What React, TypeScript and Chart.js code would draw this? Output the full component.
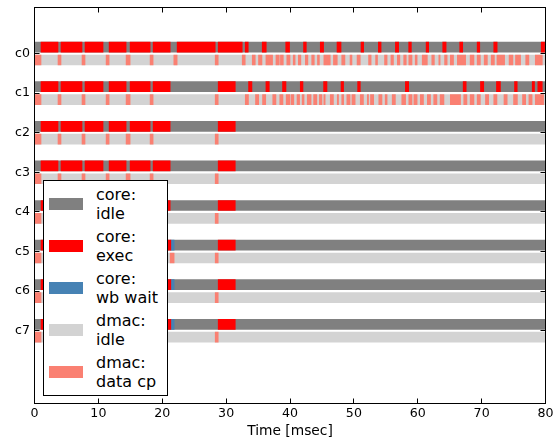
import React, { useEffect, useRef } from 'react';
import { Chart, registerables } from 'chart.js';

Chart.register(...registerables);

type Seg = [number, number];

const ROWS = ['c0', 'c1', 'c2', 'c3', 'c4', 'c5', 'c6', 'c7'];
const X_TICKS = [0, 10, 20, 30, 40, 50, 60, 70, 80];
const X_LABEL = 'Time [msec]';

const CORE_IDLE: Seg[][] = ROWS.map(() => [[0, 80]]);
const DMAC_IDLE: Seg[][] = ROWS.map(() => [[0, 80]]);

const CORE_EXEC: Seg[][] = [
  [[1.02, 3.68], [4.15, 7.44], [7.91, 10.73], [11.68, 14.34], [14.97, 18.1], [18.57, 21.24], [22.33, 28.29], [28.76, 32.52], [32.99, 33.46], [35.65, 36.28], [39.33, 39.93], [42.12, 42.55], [44.74, 45.26], [47.36, 47.99], [51.12, 51.53], [53.83, 54.26], [56.5, 57.01], [58.58, 59.0], [61.31, 61.71], [63.91, 64.44], [66.57, 67.04], [69.3, 69.71], [71.9, 72.43], [79.33, 79.85]],
  [[1.02, 3.68], [4.15, 7.44], [7.91, 10.73], [11.68, 14.34], [14.97, 18.1], [18.57, 21.24], [28.76, 31.43], [33.51, 34.04], [36.23, 36.75], [38.83, 39.37], [41.61, 42.03], [45.26, 45.79], [47.99, 48.39], [50.59, 51.01], [58.06, 58.58], [67.11, 67.58], [69.82, 70.33], [72.32, 72.95], [75.15, 75.57], [77.92, 78.28], [78.8, 79.49]],
  [[1.02, 3.68], [4.15, 7.44], [7.91, 10.73], [11.68, 14.34], [14.97, 18.1], [18.57, 21.24], [28.76, 31.43]],
  [[1.02, 3.68], [4.15, 7.44], [7.91, 10.73], [11.68, 14.34], [14.97, 18.1], [18.57, 21.24], [28.76, 31.43]],
  [[1.02, 3.68], [4.15, 7.44], [7.91, 10.73], [11.68, 14.34], [14.97, 18.1], [18.57, 21.24], [28.76, 31.43]],
  [[1.02, 3.68], [4.15, 7.44], [7.91, 10.73], [11.68, 14.34], [14.97, 18.1], [18.57, 21.34], [28.76, 31.43]],
  [[1.02, 3.68], [4.15, 7.44], [7.91, 10.73], [11.68, 14.34], [14.97, 18.1], [18.57, 21.34], [28.76, 31.43]],
  [[1.02, 3.68], [4.15, 7.44], [7.91, 10.73], [11.68, 14.34], [14.97, 18.1], [18.57, 21.34], [28.76, 31.43]],
];

const CORE_WB_WAIT: Seg[][] = [
  [], [], [], [], [],
  [[21.34, 21.86]],
  [[21.34, 21.86]],
  [[21.34, 21.86]],
];

const DMAC_DATA_CP: Seg[][] = [
  [[0, 1.02], [3.68, 4.15], [7.44, 7.91], [11.21, 11.68], [14.34, 14.97], [18.1, 18.57], [21.81, 22.33], [28.29, 28.76], [32.52, 32.99], [34.09, 34.56], [35.07, 35.61], [36.23, 37.27], [37.8, 38.32], [38.5, 38.95], [39.5, 40.0], [40.5, 40.8], [41.3, 41.7], [42.4, 42.8], [43.4, 43.8], [44.3, 44.6], [45.3, 46.3], [46.8, 47.4], [48.1, 48.6], [49.4, 49.7], [50.5, 51.0], [52.3, 52.7], [53.4, 53.7], [54.8, 55.2], [55.8, 56.2], [56.8, 57.2], [57.8, 58.2], [58.6, 59.1], [59.6, 59.9], [60.7, 61.5], [62.2, 62.6], [63.3, 63.5], [64.2, 64.6], [65.1, 65.6], [66.2, 67.5], [68.2, 68.8], [69.3, 69.8], [70.4, 70.9], [71.5, 72.0], [72.4, 73.6], [74.3, 74.9], [75.3, 76.1], [76.9, 77.4], [78.4, 79.5]],
  [[0, 1.02], [3.68, 4.15], [7.44, 7.91], [11.21, 11.68], [14.34, 14.97], [18.1, 18.57], [28.29, 28.76], [33.0, 33.5], [34.6, 35.1], [35.7, 36.2], [37.3, 37.8], [38.4, 38.9], [39.4, 40.0], [40.2, 40.6], [41.1, 41.5], [41.9, 42.2], [42.7, 43.3], [43.7, 44.2], [44.6, 45.0], [45.3, 45.5], [46.3, 46.8], [47.4, 47.6], [48.1, 48.4], [48.9, 49.4], [49.7, 50.2], [51.0, 51.5], [52.1, 52.3], [52.6, 53.1], [53.9, 54.4], [54.9, 55.2], [56.0, 56.5], [57.5, 58.1], [58.6, 59.1], [59.4, 59.9], [60.4, 60.9], [61.5, 62.0], [62.5, 63.0], [63.5, 64.1], [65.1, 66.7], [67.2, 67.7], [68.2, 68.8], [69.3, 69.8], [70.6, 71.1], [71.9, 72.4], [73.5, 74.0], [75.0, 75.6], [76.4, 76.9], [77.4, 77.9], [78.4, 79.7]],
  [[0, 1.02], [3.68, 4.15], [7.44, 7.91], [11.21, 11.68], [14.34, 14.97], [18.1, 18.57], [28.29, 28.76]],
  [[0, 1.02], [3.68, 4.15], [7.44, 7.91], [11.21, 11.68], [14.34, 14.97], [18.1, 18.57], [28.29, 28.76]],
  [[0, 1.02], [3.68, 4.15], [7.44, 7.91], [11.21, 11.68], [14.34, 14.97], [18.1, 18.57], [28.29, 28.76]],
  [[0, 1.02], [3.68, 4.15], [7.44, 7.91], [11.21, 11.68], [14.34, 14.97], [18.1, 18.57], [21.24, 21.86], [28.29, 28.76]],
  [[0, 1.02], [3.68, 4.15], [7.44, 7.91], [11.21, 11.68], [14.34, 14.97], [18.1, 18.57], [28.29, 28.76]],
  [[0, 1.02], [3.68, 4.15], [7.44, 7.91], [11.21, 11.68], [14.34, 14.97], [18.1, 18.57], [28.29, 28.76]],
];

const LEGEND_LABELS = [
  ['core:', 'idle'],
  ['core:', 'exec'],
  ['core:', 'wb wait'],
  ['dmac:', 'idle'],
  ['dmac:', 'data cp'],
];

const COLORS = {
  coreIdle: '#808080',
  coreExec: '#ff0000',
  coreWb: '#4682b4',
  dmacIdle: '#d3d3d3',
  dmacCp: '#fa8072',
};
const LEGEND_COLORS = [COLORS.coreIdle, COLORS.coreExec, COLORS.coreWb, COLORS.dmacIdle, COLORS.dmacCp];

const CORE_OFFSET = -0.16;
const DMAC_OFFSET = 0.165;
const FONT = "'DejaVu Sans', sans-serif";

function toPoints(rows: Seg[][], offset: number) {
  const pts: { x: Seg; y: number }[] = [];
  rows.forEach((segs, i) => segs.forEach((s) => pts.push({ x: s, y: i + offset })));
  return pts;
}

const framePlugin = {
  id: 'frameTicks',
  afterDatasetsDraw(chart: any) {
    const { ctx, chartArea: a, scales } = chart;
    ctx.save();
    ctx.strokeStyle = '#000';
    ctx.lineWidth = 1;
    ctx.beginPath();
    const L = 5;
    for (const v of X_TICKS) {
      const px = Math.floor(scales.x.getPixelForValue(v)) + 0.5;
      ctx.moveTo(px, a.bottom);
      ctx.lineTo(px, a.bottom - L);
      ctx.moveTo(px, a.top);
      ctx.lineTo(px, a.top + L);
    }
    ROWS.forEach((_, i) => {
      const py = Math.floor(scales.y.getPixelForValue(i)) + 0.5;
      ctx.moveTo(a.left, py);
      ctx.lineTo(a.left + L, py);
      ctx.moveTo(a.right, py);
      ctx.lineTo(a.right - L, py);
    });
    ctx.stroke();
    ctx.strokeRect(a.left, a.top, a.right - a.left, a.bottom - a.top);
    ctx.restore();
  },
};

export default function App() {
  const ref = useRef<HTMLCanvasElement>(null);

  useEffect(() => {
    if (!ref.current) return;
    const ds = (label: string, rows: Seg[][], offset: number, color: string, order: number) => ({
      label,
      data: toPoints(rows, offset),
      backgroundColor: color,
      borderWidth: 0,
      barThickness: 10,
      grouped: false,
      order,
    });
    const chart = new Chart(ref.current, {
      type: 'bar',
      data: {
        datasets: [
          ds('core: idle', CORE_IDLE, CORE_OFFSET, COLORS.coreIdle, 2),
          ds('core: exec', CORE_EXEC, CORE_OFFSET, COLORS.coreExec, 1),
          ds('core: wb wait', CORE_WB_WAIT, CORE_OFFSET, COLORS.coreWb, 1),
          ds('dmac: idle', DMAC_IDLE, DMAC_OFFSET, COLORS.dmacIdle, 2),
          ds('dmac: data cp', DMAC_DATA_CP, DMAC_OFFSET, COLORS.dmacCp, 1),
        ] as any,
      },
      options: {
        indexAxis: 'y',
        animation: false,
        responsive: false,
        devicePixelRatio: 1,
        events: [],
        layout: { padding: { top: 7.5, right: 11.5, left: 0, bottom: 0 } },
        plugins: { legend: { display: false }, tooltip: { enabled: false } },
        scales: {
          x: {
            type: 'linear',
            min: 0,
            max: 80,
            offset: false,
            grid: { display: false, drawTicks: false, offset: false },
            border: { display: false },
            afterBuildTicks: (s: any) => {
              s.ticks = X_TICKS.map((v) => ({ value: v }));
            },
            afterFit: (s: any) => {
              s.height = 37.5;
              s.paddingLeft = 0;
              s.paddingRight = 0;
            },
            ticks: {
              color: '#000',
              padding: 3,
              font: { family: FONT, size: 12.6 },
              maxRotation: 0,
              autoSkip: false,
            },
            title: {
              display: true,
              text: X_LABEL,
              color: '#000',
              font: { family: FONT, size: 13.8 },
              padding: { top: 0, bottom: 1 },
            },
          },
          y: {
            type: 'linear',
            reverse: true,
            min: -1.16,
            max: 8.84,
            offset: false,
            grid: { display: false, drawTicks: false, offset: false },
            border: { display: false },
            afterBuildTicks: (s: any) => {
              s.ticks = ROWS.map((_, i) => ({ value: i }));
            },
            afterFit: (s: any) => {
              s.width = 34.5;
              s.paddingTop = 0;
              s.paddingBottom = 0;
            },
            ticks: {
              color: '#000',
              padding: 4.5,
              autoSkip: false,
              font: { family: FONT, size: 12.6 },
              callback: (v: any) => ROWS[Number(v)] ?? '',
            },
          },
        },
      } as any,
      plugins: [framePlugin],
    });
    return () => chart.destroy();
  }, []);

  return (
    <div style={{ position: 'fixed', left: 0, top: 0, width: 557, height: 441, background: '#fff' }}>
      <canvas ref={ref} width={557} height={441} style={{ display: 'block', width: 557, height: 441 }} />
      <div
        style={{
          position: 'absolute',
          left: 42.5,
          top: 179.5,
          width: 125,
          height: 216,
          boxSizing: 'border-box',
          border: '1px solid #000',
          background: '#fff',
          fontFamily: FONT,
          fontSize: 16,
          color: '#000',
        }}
      >
        {LEGEND_LABELS.map((lines, i) => (
          <div key={i}>
            <div
              style={{
                position: 'absolute',
                left: 5.5,
                top: 23.5 + 42 * i - 6,
                width: 34,
                height: 12,
                background: LEGEND_COLORS[i],
              }}
            />
            <div
              style={{
                position: 'absolute',
                left: 52.5,
                top: 23.5 + 42 * i - 19,
                lineHeight: '19px',
                whiteSpace: 'nowrap',
              }}
            >
              {lines[0]}
              <br />
              {lines[1]}
            </div>
          </div>
        ))}
      </div>
    </div>
  );
}
